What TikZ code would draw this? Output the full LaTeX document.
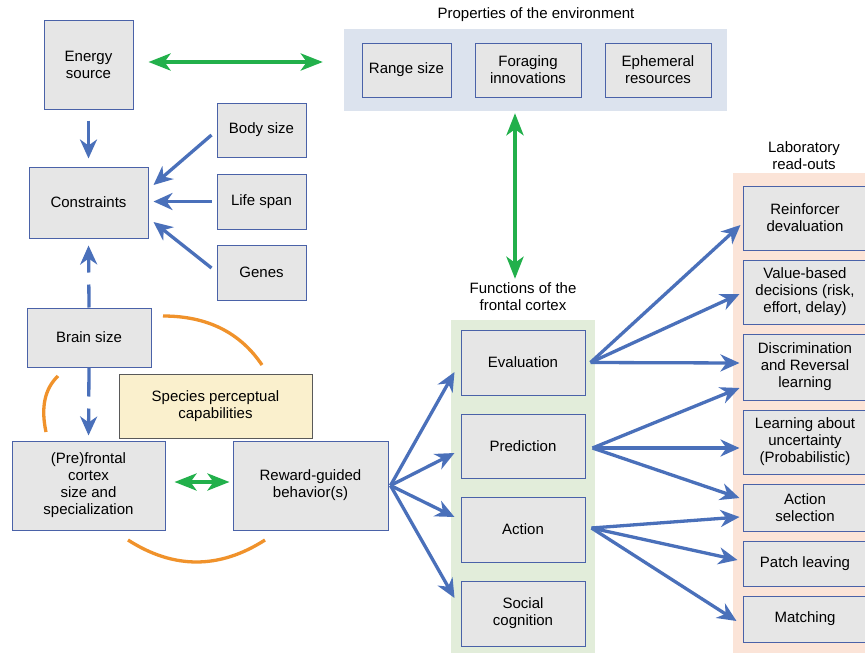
\documentclass[tikz,border=0pt]{standalone}
\usepackage{fontspec}
\setmainfont{Liberation Sans}
\usetikzlibrary{arrows.meta}
\definecolor{boxgray}{HTML}{E6E6E6}
\definecolor{boxblue}{HTML}{4A62A8}
\definecolor{arrowblue}{HTML}{4A70BA}
\definecolor{arrowgreen}{HTML}{22B04B}
\definecolor{arcorange}{HTML}{F0922B}
\definecolor{envblue}{HTML}{DCE3EE}
\definecolor{funcgreen}{HTML}{E2EDDA}
\definecolor{labpeach}{HTML}{FBE4D8}
\definecolor{speciesyellow}{HTML}{FAF0CD}
\begin{document}
\begin{tikzpicture}[x=1pt,y=-1pt,
    every node/.style={font=\fontsize{15}{17}\selectfont},
    grey box/.style={draw=boxblue,fill=boxgray,line width=1pt,align=center,inner sep=0pt},
    bg panel/.style={draw=none,inner sep=0pt},
    label text/.style={align=center,inner sep=0pt},
    blue arrow/.style={draw=arrowblue,line width=3.3pt,-{Stealth[length=19pt,width=17pt,inset=6pt]}},
    green arrow/.style={draw=arrowgreen,line width=4pt,{Stealth[length=22pt,width=17pt,inset=6pt]}-{Stealth[length=22pt,width=17pt,inset=6pt]}},
    orange arc/.style={draw=arcorange,line width=3.3pt}]
            \useasboundingbox[fill=white] (0,0) rectangle (865,653);

            % panels behind the boxes
            \node[bg panel,fill=envblue,minimum width=383,minimum height=82] at (535.5,70) (envbg) {};
            \node[bg panel,fill=funcgreen,minimum width=144,minimum height=345] at (523,492.5) (funcbg) {};
            \node[bg panel,fill=labpeach,minimum width=140,minimum height=490] at (803,418) (labbg) {};

            \node[label text] at (536,15) (envlabel) {Properties of the environment};
            \node[label text] at (523,297) (funclabel) {Functions of the\\frontal cortex};
            \node[label text] at (804,156) (lablabel) {Laboratory\\read-outs};

            % left part
            \node[grey box,minimum width=89,minimum height=89] at (88.5,64.5) (energy) {Energy\\source};
            \node[grey box,minimum width=119,minimum height=71] at (88.5,202.5) (cons) {Constraints};
            \node[grey box,minimum width=89,minimum height=54] at (261.5,130) (body) {Body size};
            \node[grey box,minimum width=89,minimum height=55] at (261.5,201.5) (life) {Life span};
            \node[grey box,minimum width=89,minimum height=55] at (261.5,272.5) (genes) {Genes};
            \node[grey box,minimum width=124,minimum height=59] at (89,337.5) (brain) {Brain size};
            \node[grey box,draw=black!65,fill=speciesyellow,minimum width=193,minimum height=64] at (215.5,406) (species) {Species perceptual\\capabilities};
            \node[grey box,minimum width=153,minimum height=89] at (88.5,485.5) (pfc) {(Pre)frontal\\cortex\\size and\\specialization};
            \node[grey box,minimum width=155,minimum height=89] at (310.5,485.5) (reward) {Reward-guided\\behavior(s)};

            % environment
            \node[grey box,minimum width=89,minimum height=54] at (406.5,70) (range) {Range size};
            \node[grey box,minimum width=106,minimum height=54] at (528,70) (forage) {Foraging\\innovations};
            \node[grey box,minimum width=106,minimum height=54] at (658,70) (ephem) {Ephemeral\\resources};

            % functions of the frontal cortex
            \node[grey box,minimum width=124,minimum height=65] at (523,362.5) (eval) {Evaluation};
            \node[grey box,minimum width=124,minimum height=64] at (523,446) (pred) {Prediction};
            \node[grey box,minimum width=124,minimum height=65] at (523,529.5) (act) {Action};
            \node[grey box,minimum width=124,minimum height=65] at (523,613.5) (social) {Social\\cognition};

            % laboratory read-outs
            \node[grey box,minimum width=124,minimum height=64] at (805,218) (reinf) {Reinforcer\\devaluation};
            \node[grey box,minimum width=124,minimum height=64] at (805,292) (value) {Value-based\\decisions (risk,\\effort, delay)};
            \node[grey box,minimum width=124,minimum height=66] at (805,367) (discr) {Discrimination\\and Reversal\\learning};
            \node[grey box,minimum width=124,minimum height=64] at (805,442) (uncert) {Learning about\\uncertainty\\(Probabilistic)};
            \node[grey box,minimum width=124,minimum height=47] at (805,507.5) (actsel) {Action\\selection};
            \node[grey box,minimum width=124,minimum height=45] at (805,563.5) (patch) {Patch leaving};
            \node[grey box,minimum width=124,minimum height=46] at (805,619) (match) {Matching};

            % blue arrows, left
            \path (energy) edge[blue arrow,shorten <=11pt,shorten >=8pt] (cons);
            \path ([shift={(-5,5)}]body.west) edge[blue arrow] ([shift={(5,-17.5)}]cons.east);
            \path ([xshift=-5]life.west) edge[blue arrow] ([xshift=5]cons.east |- life.west);
            \path ([shift={(-5,-4.5)}]genes.west) edge[blue arrow] ([shift={(5,19.5)}]cons.east);
            \path (brain.north) edge[blue arrow,dash pattern=on 23pt off 12pt,shorten >=7pt] (cons.south);
            \path (brain.south) edge[blue arrow,dash pattern=on 29pt off 12pt,shorten >=5pt] (pfc.north);

            % reward-guided behaviour to the functions
            \path[every edge/.style={blue arrow}]
                ([xshift=2]reward.east) edge ([shift={(-6,9.5)}]eval.west)
                ([xshift=2]reward.east) edge ([shift={(-6,7)}]pred.west)
                ([xshift=2]reward.east) edge ([shift={(-6,-12.5)}]act.west)
                ([xshift=2]reward.east) edge ([shift={(-6,-15.5)}]social.west)
                ;

            % functions to read-outs
            \path[every edge/.style={blue arrow}]
                ([xshift=5]eval.east) edge ([shift={(-2,7)}]reinf.west)
                ([xshift=5]eval.east) edge ([shift={(-3,2)}]value.west)
                ([xshift=5]eval.east) edge ([shift={(-3,-4)}]discr.west)
                ([shift={(7,2)}]pred.east) edge ([shift={(-3,21)}]discr.west)
                ([shift={(7,2)}]pred.east) edge ([shift={(-3,6)}]uncert.west)
                ([shift={(7,2)}]pred.east) edge ([shift={(-3,-9.5)}]actsel.west)
                ([shift={(6,-1.5)}]act.east) edge ([shift={(-3,9.5)}]actsel.west)
                ([shift={(6,-1.5)}]act.east) edge ([shift={(-5,-3.5)}]patch.west)
                ([shift={(6,-1.5)}]act.east) edge ([shift={(-6,2)}]match.west)
                ;

            % green double arrows
            \path ([yshift=2.5]energy.east) edge[green arrow,shorten <=15pt,shorten >=21pt] ([yshift=2.5]energy.east -| envbg.west);
            \path ([xshift=-8]funclabel.north |- envbg.south) edge[green arrow,shorten <=2pt,shorten >=4pt] ([xshift=-8]funclabel.north);
            \path ([yshift=3.5]pfc.east) edge[green arrow,shorten <=9pt,shorten >=3pt] ([yshift=3.5]reward.west);

            % orange arcs
            \draw[orange arc] (163,316) .. controls (207,316) and (240,332.3) .. (262,365);
            \draw[orange arc] (58,376) .. controls (44.7,388.7) and (40.7,407.3) .. (46,432);
            \draw[orange arc] (128,540) .. controls (173.7,569.3) and (219.3,569.3) .. (265,540);
        \end{tikzpicture}
\end{document}
